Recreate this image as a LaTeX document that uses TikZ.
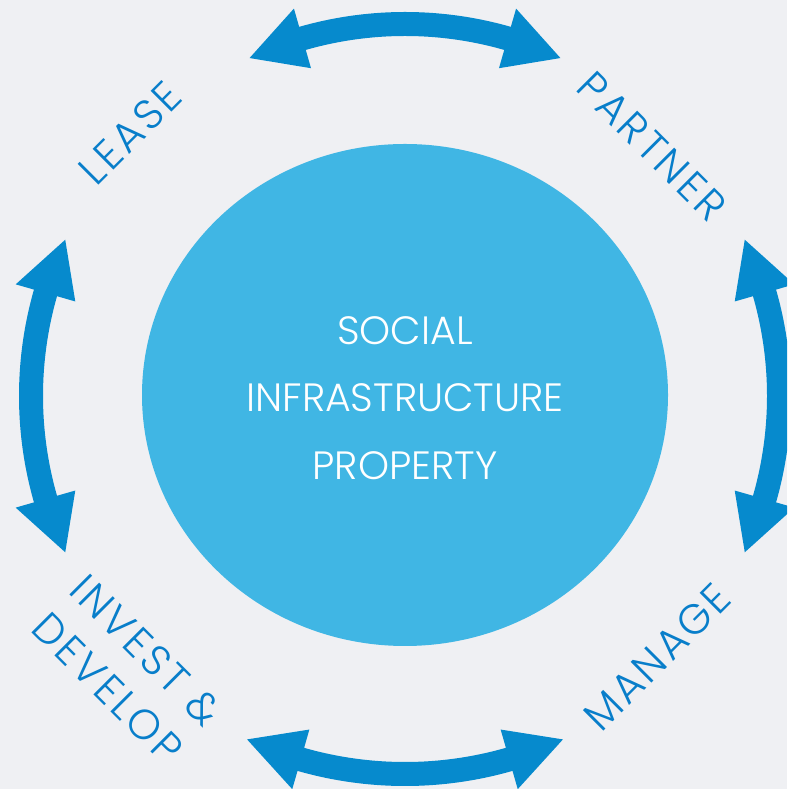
\documentclass[tikz,border=0pt]{standalone}
\usepackage{fontspec}
\setmainfont{Poppins Light}
\usetikzlibrary{calc,shapes.geometric}
\definecolor{bgcol}{RGB}{239,240,243}
\definecolor{hubcol}{RGB}{64,182,228}
\definecolor{arrowcol}{RGB}{6,138,205}
\definecolor{labelcol}{RGB}{8,126,202}
\tikzset{
  lbl/.style={text=labelcol, font=\fontsize{42}{54}\selectfont\addfontfeatures{LetterSpace=7}, inner sep=0pt, text depth=0pt},
  hubtext/.style={text=white, font=\fontsize{39.5}{45}\selectfont, inner sep=0pt, anchor=base},
  arrowfill/.style={fill=arrowcol}
}
\begin{document}
\begin{tikzpicture}[x=1pt,y=1pt]
\useasboundingbox (0,0) rectangle (787,789);
\clip (0,0) rectangle (787,789);
\fill[bgcol] (0,0) rectangle (787,789);
% hub
\node[ellipse, fill=hubcol, minimum width=526pt, minimum height=502pt, inner sep=0pt] (hub) at (405,394) {};
\node[hubtext] (t1) at (405,444) {SOCIAL};
\node[hubtext] (t2) at (405,377) {INFRASTRUCTURE};
\node[hubtext] (t3) at (405,309) {PROPERTY};
% arrows
\begin{scope}[shift={(405,393)}]
\foreach \a/\r in {90/372, 180/374, 0/374, 270/378} {
  \fill[arrowfill] (\a+24.7:\r)
    -- (\a+16:\r+31) -- (\a+16:\r+12)
    arc[start angle=\a+16, end angle=\a-16, radius=\r+12]
    -- (\a-16:\r+31) -- (\a-24.7:\r)
    -- (\a-16:\r-31) -- (\a-16:\r-12)
    arc[start angle=\a-16, end angle=\a+16, radius=\r-12]
    -- (\a+16:\r-31) -- cycle;
}
\end{scope}
% labels
\node[lbl, rotate=45] (lease) at (130,656) {LEASE};
\node[lbl, rotate=-45] (partner) at (652,643) {PARTNER};
\node[lbl, rotate=45] (manage) at (657,132) {MANAGE};
\node[lbl, rotate=-45, align=left] (invest) at (127,120) {INVEST \&\\DEVELOP};
\end{tikzpicture}
\end{document}
